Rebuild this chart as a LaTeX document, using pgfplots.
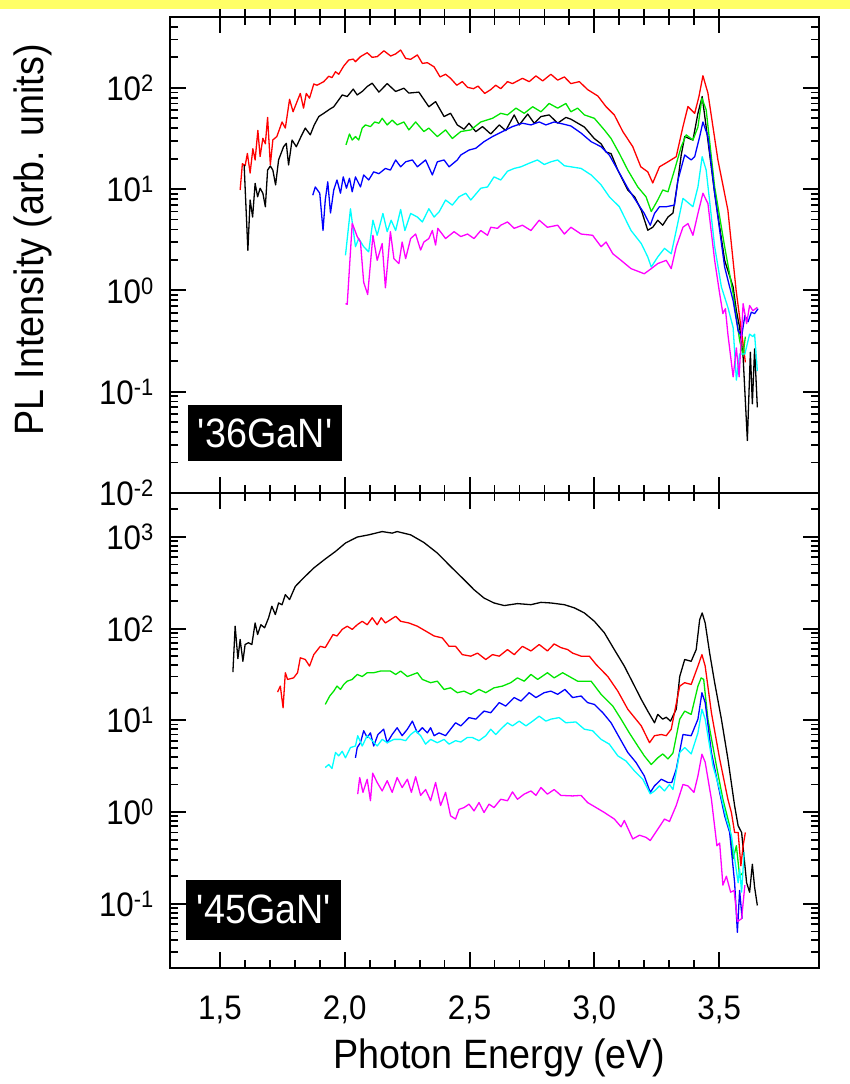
\documentclass[border=0pt]{standalone}
\usepackage{fontspec}
\setmainfont{Liberation Sans}[FakeStretch=0.92]
\usepackage{pgfplots}
\pgfplotsset{compat=1.18}
\definecolor{hl}{RGB}{255,255,102}
\definecolor{cgreen}{RGB}{0,230,0}
\definecolor{ccyan}{RGB}{0,255,255}
\definecolor{cmag}{RGB}{255,0,255}
\pgfplotsset{
  every axis plot/.append style={line width=1.3pt, line join=round},
  major tick style={black, line width=2pt},
  minor tick style={black, line width=1.8pt},
  tick label style={font=\fontsize{34pt}{36pt}\selectfont},
  yticklabel style={anchor=east, inner sep=0pt, xshift=-16pt},
  label style={font=\fontsize{41pt}{44pt}\selectfont},
  axis line style={line width=2.5pt},
}
\begin{document}
\begin{tikzpicture}
\useasboundingbox (0pt,0pt) rectangle (850pt,1084pt);
% ---------------- top panel ----------------
\begin{axis}[scale only axis, width=649pt, height=476pt, anchor=south west, at={(170pt,591pt)},
  xmin=1.3, xmax=3.9, ymode=log, ymin=0.01, ymax=500,
  xtick={1.5,2,2.5,3,3.5}, minor x tick num=4,
  tick align=inside, major tick length=16pt, minor tick length=8pt,
  xticklabels={},
  ytick={0.01,0.1,1,10,100},
  yticklabels={10\textsuperscript{-2},10\textsuperscript{-1},10\textsuperscript{0},10\textsuperscript{1},10\textsuperscript{2}},
  minor ytick={0.02,0.03,0.04,0.05,0.06,0.07,0.08,0.09,0.2,0.3,0.4,0.5,0.6,0.7,0.8,0.9,2,3,4,5,6,7,8,9,20,30,40,50,60,70,80,90,200,300,400},
  ylabel={PL Intensity (arb. units)},
  ylabel style={at={(rel axis cs:-0.211,0.5315)}, anchor=center},
]
% red
\addplot[red, mark=none] coordinates {(1.581,9.8)(1.590,17.8)(1.601,17)(1.610,22.5)(1.621,14.4)(1.632,25)(1.641,19.4)(1.652,38)(1.661,21)(1.672,31.7)(1.682,28)(1.691,51)(1.702,17.4)(1.712,30.6)(1.728,33)(1.749,46)(1.762,40)(1.779,77)(1.793,58)(1.806,70)(1.822,88)(1.835,63)(1.846,88)(1.859,79)(1.876,109)(1.889,106)(1.916,115)(1.936,130)(1.949,126)(1.963,144)(1.976,136)(1.996,164)(2.016,188)(2.034,192)(2.043,181)(2.063,203)(2.090,222)(2.110,200)(2.130,203)(2.157,232)(2.184,206)(2.204,216)(2.224,236)(2.244,195)(2.264,191)(2.291,211)(2.311,174)(2.331,177)(2.358,161)(2.382,128)(2.404,136)(2.424,124)(2.449,106)(2.471,115)(2.492,101)(2.516,98)(2.534,104)(2.561,88)(2.585,96)(2.605,106)(2.625,98)(2.652,115)(2.672,110)(2.712,124)(2.739,115)(2.766,131)(2.793,117)(2.826,136)(2.853,119)(2.880,128)(2.906,110)(2.940,115)(2.973,96)(3.014,83)(3.047,65)(3.080,54)(3.114,37)(3.154,26.2)(3.186,16.6)(3.214,14.8)(3.234,11.5)(3.261,16.6)(3.295,18.6)(3.328,20.9)(3.355,41.4)(3.375,65.3)(3.402,56)(3.419,82)(3.435,131.5)(3.455,88.7)(3.495,19.4)(3.535,6.2)(3.568,1.0)(3.596,0.296)(3.605,0.195)};
% black
\addplot[black, mark=none] coordinates {(1.597,17.3)(1.612,2.49)(1.621,7.8)(1.631,5.3)(1.641,11.4)(1.651,8.4)(1.661,10.2)(1.672,9.1)(1.682,6.7)(1.691,15.4)(1.702,16.9)(1.712,15.4)(1.723,11)(1.735,19.4)(1.755,26.2)(1.766,28.3)(1.775,17.3)(1.789,30.5)(1.806,26.2)(1.825,33)(1.842,40)(1.862,34.3)(1.878,43)(1.896,52)(1.916,56)(1.940,61.5)(1.956,65)(1.976,76)(1.990,85)(2.010,82)(2.034,97)(2.050,85)(2.070,92)(2.090,103)(2.110,111)(2.137,90.6)(2.170,110)(2.204,92)(2.237,99)(2.257,88.7)(2.297,90.6)(2.337,65)(2.364,73)(2.398,52)(2.424,56)(2.451,43)(2.478,39)(2.498,44.7)(2.525,36.9)(2.552,41.4)(2.585,35)(2.619,43)(2.645,37.8)(2.679,54)(2.699,43)(2.733,55)(2.759,44.7)(2.786,52)(2.819,54)(2.853,44.7)(2.886,51)(2.906,49)(2.960,41)(3.000,31.5)(3.027,28)(3.047,23.2)(3.067,22.4)(3.094,15.4)(3.134,9.8)(3.161,8.4)(3.188,6.2)(3.214,3.93)(3.234,4.2)(3.254,4.93)(3.274,4.4)(3.295,5.3)(3.315,5.8)(3.335,12.3)(3.348,21.7)(3.362,33)(3.395,30.5)(3.415,56)(3.432,82)(3.448,41)(3.482,9.1)(3.522,1.98)(3.556,1.08)(3.569,0.63)(3.582,0.43)(3.596,0.22)(3.613,0.033)(3.625,0.245)(3.633,0.076)(3.642,0.265)(3.653,0.07)};
% green
\addplot[cgreen, mark=none] coordinates {(2.005,27.3)(2.019,35)(2.030,30.5)(2.043,33)(2.056,30.5)(2.070,40)(2.083,43)(2.103,41.4)(2.120,46)(2.137,44.7)(2.150,50)(2.170,43)(2.190,48)(2.210,43)(2.237,46)(2.257,38.4)(2.284,46)(2.317,37)(2.337,40)(2.371,33)(2.404,38.4)(2.431,31.6)(2.465,37)(2.505,38.4)(2.545,46)(2.592,50)(2.625,56)(2.652,54)(2.686,63)(2.719,56)(2.753,65)(2.786,58)(2.819,70)(2.853,63)(2.886,70)(2.906,58)(2.933,63)(2.960,54)(3.000,50)(3.040,38.4)(3.067,31.6)(3.100,22.5)(3.134,15.4)(3.174,10.5)(3.207,8.4)(3.228,6.0)(3.254,7.8)(3.274,9.8)(3.295,9.4)(3.321,15.4)(3.348,26.2)(3.368,34.3)(3.395,30.5)(3.415,41)(3.431,79)(3.448,60.5)(3.482,10.5)(3.522,2.7)(3.556,0.93)(3.582,0.32)(3.596,0.23)(3.605,0.35)};
% blue
\addplot[blue, mark=none] coordinates {(1.872,8.7)(1.882,10.5)(1.900,9.1)(1.913,3.9)(1.922,7.8)(1.932,11.8)(1.943,5.8)(1.956,9.8)(1.969,12.3)(1.983,9.1)(1.994,13.2)(2.007,10.2)(2.019,12.8)(2.030,9.4)(2.043,13.2)(2.063,10.5)(2.076,13.8)(2.096,12.3)(2.116,14.8)(2.137,14.2)(2.163,16)(2.183,15.4)(2.204,19.4)(2.224,16.6)(2.244,18.6)(2.271,19.4)(2.291,16.6)(2.324,19.4)(2.351,13.8)(2.371,18.6)(2.398,19.4)(2.418,16.6)(2.451,19.4)(2.465,21.7)(2.498,24.3)(2.525,25.3)(2.558,29.4)(2.592,33)(2.632,37)(2.672,41.4)(2.712,44.7)(2.746,43)(2.779,46)(2.806,43)(2.839,46)(2.873,44)(2.906,42)(2.947,35.7)(2.987,29.4)(3.027,26.2)(3.060,21.7)(3.094,15.4)(3.134,10.2)(3.174,7.2)(3.200,5.75)(3.224,4.4)(3.241,5.75)(3.261,6.7)(3.288,6.7)(3.321,6.95)(3.335,12.3)(3.362,21.7)(3.388,19.4)(3.402,20.9)(3.422,33)(3.435,46)(3.455,33)(3.482,9.1)(3.522,1.7)(3.556,0.79)(3.576,0.40)(3.590,0.35)(3.603,0.565)(3.616,0.49)(3.629,0.61)(3.642,0.59)(3.656,0.66)};
% cyan
\addplot[ccyan, mark=none] coordinates {(2.003,2.22)(2.023,6.4)(2.043,2.7)(2.056,3.25)(2.076,2.7)(2.096,2.4)(2.113,4.93)(2.130,3.5)(2.153,5.75)(2.170,3.8)(2.186,4.93)(2.204,3.9)(2.224,6.3)(2.241,3.9)(2.264,5.75)(2.291,5.3)(2.311,4.74)(2.337,6.4)(2.358,5.3)(2.378,5.96)(2.404,7.8)(2.431,6.95)(2.458,8.4)(2.485,9.1)(2.505,7.8)(2.545,10.2)(2.572,10.5)(2.598,13.2)(2.625,12.3)(2.652,15)(2.679,16)(2.706,16.6)(2.739,18)(2.772,19.4)(2.799,17.5)(2.826,18.6)(2.853,19.4)(2.880,17)(2.906,16.6)(2.947,16)(2.987,13.8)(3.027,11)(3.060,8.4)(3.100,6.7)(3.147,3.9)(3.188,2.9)(3.214,2.14)(3.228,1.7)(3.254,2.14)(3.281,2.6)(3.308,2.3)(3.328,3.9)(3.355,8.1)(3.395,6.7)(3.415,10.5)(3.432,20.9)(3.448,15.4)(3.482,2.7)(3.509,1.08)(3.535,0.68)(3.556,0.43)(3.569,0.13)(3.582,0.236)(3.603,0.236)(3.622,0.37)(3.635,0.35)(3.642,0.37)(3.653,0.16)};
% magenta
\addplot[cmag, mark=none] coordinates {(2.003,0.74)(2.010,0.73)(2.030,4.6)(2.050,3.4)(2.063,3.0)(2.076,1.2)(2.092,0.91)(2.113,3.5)(2.130,1.98)(2.150,2.9)(2.163,1.06)(2.183,3.8)(2.197,2.06)(2.217,1.84)(2.230,3.0)(2.244,2.06)(2.264,3.25)(2.284,3.6)(2.304,2.5)(2.317,3.0)(2.337,3.25)(2.351,3.9)(2.364,2.8)(2.373,4.1)(2.404,3.25)(2.438,3.8)(2.465,3.4)(2.492,3.6)(2.518,3.25)(2.545,3.9)(2.572,3.5)(2.585,4.2)(2.612,4.1)(2.625,4.4)(2.652,4.74)(2.679,4.1)(2.712,4.4)(2.746,3.9)(2.779,4.93)(2.812,4.2)(2.853,4.4)(2.880,3.6)(2.906,4.2)(2.947,3.6)(2.993,3.5)(3.027,2.7)(3.047,3.0)(3.074,2.3)(3.107,1.98)(3.147,1.64)(3.200,1.46)(3.228,1.64)(3.254,1.84)(3.288,1.98)(3.308,1.64)(3.328,2.7)(3.355,4.2)(3.375,4.57)(3.395,3.5)(3.415,5.75)(3.435,9.1)(3.455,7.2)(3.482,1.98)(3.502,0.93)(3.515,0.59)(3.525,0.66)(3.535,0.37)(3.556,0.14)(3.569,0.27)(3.580,0.14)(3.596,0.74)(3.610,0.47)(3.622,0.71)(3.635,0.63)(3.653,0.68)};
\node[fill=black, text=white, anchor=south west, minimum width=154pt, minimum height=56pt, inner sep=0pt, font=\fontsize{41pt}{44pt}\selectfont] at (rel axis cs:0.028,0.067) {\textquotesingle 36GaN\textquotesingle};
\end{axis}
% outward top ticks of top panel
\begin{axis}[scale only axis, width=649pt, height=476pt, anchor=south west, at={(170pt,591pt)},
  xmin=1.3, xmax=3.9, ymin=0, ymax=1, ytick=\empty, xticklabels={},
  xtick={1.5,2,2.5,3,3.5}, minor x tick num=4,
  major tick length=16pt, minor tick length=8pt,
  xtick pos=right, tick align=outside]
\end{axis}
% ---------------- bottom panel ----------------
\begin{axis}[scale only axis, width=649pt, height=475pt, anchor=south west, at={(170pt,116pt)},
  xmin=1.3, xmax=3.9, ymode=log, ymin=0.02, ymax=3000,
  xtick={1.5,2,2.5,3,3.5}, minor x tick num=4,
  tick align=inside, major tick length=16pt, minor tick length=8pt,
  /pgf/number format/assume math mode=true,
  xticklabel style={anchor=base, yshift=-51pt, /pgf/number format/fixed, /pgf/number format/fixed zerofill, /pgf/number format/precision=1, /pgf/number format/use comma},
  ytick={0.1,1,10,100,1000},
  yticklabels={10\textsuperscript{-1},10\textsuperscript{0},10\textsuperscript{1},10\textsuperscript{2},10\textsuperscript{3}},
  minor ytick={0.02,0.03,0.04,0.05,0.06,0.07,0.08,0.09,0.2,0.3,0.4,0.5,0.6,0.7,0.8,0.9,2,3,4,5,6,7,8,9,20,30,40,50,60,70,80,90,200,300,400,500,600,700,800,900,2000},
  xlabel={Photon Energy (eV)},
  xlabel style={at={(rel axis cs:0.507,0)}, anchor=base, yshift=-100pt},
]
% black
\addplot[black, mark=none] coordinates {(1.552,33.5)(1.561,106)(1.572,47)(1.581,76)(1.592,44)(1.601,67)(1.614,70)(1.628,67)(1.641,115)(1.651,86)(1.664,110)(1.679,102)(1.695,131)(1.708,175)(1.722,142)(1.735,190)(1.749,182)(1.762,234)(1.779,207)(1.802,288)(1.835,356)(1.876,457)(1.922,573)(1.963,692)(2.003,855)(2.050,993)(2.096,1050)(2.150,1140)(2.190,1096)(2.210,1140)(2.264,1050)(2.317,867)(2.371,665)(2.424,475)(2.478,341)(2.518,265)(2.558,215)(2.598,190)(2.639,178)(2.692,187)(2.746,182)(2.786,193)(2.826,190)(2.880,182)(2.920,168)(2.960,148)(3.000,120)(3.040,90)(3.080,59)(3.120,39)(3.161,23.6)(3.188,16.9)(3.214,12.6)(3.241,9.4)(3.254,11.6)(3.274,10.3)(3.288,10.8)(3.305,9.8)(3.328,13.2)(3.342,30)(3.362,46)(3.388,44)(3.408,59)(3.422,125)(3.432,148)(3.444,115)(3.462,54)(3.482,25.7)(3.509,10.3)(3.535,3.8)(3.562,1.17)(3.576,0.71)(3.590,0.6)(3.610,0.17)(3.622,0.134)(3.633,0.27)(3.642,0.152)(3.653,0.096)};
% red
\addplot[red, mark=none] coordinates {(1.731,20.3)(1.742,23.6)(1.753,13.7)(1.762,33)(1.771,27.9)(1.795,29)(1.811,33)(1.822,48)(1.842,46)(1.859,39)(1.876,52)(1.902,64)(1.922,62)(1.953,86)(1.969,83)(1.990,98)(2.010,106)(2.030,98)(2.050,110)(2.070,120)(2.090,110)(2.110,131)(2.130,110)(2.146,131)(2.163,115)(2.204,136)(2.224,120)(2.257,115)(2.291,106)(2.324,94)(2.358,83)(2.391,79)(2.418,64)(2.444,64)(2.471,52)(2.505,50)(2.532,54)(2.565,46)(2.592,52)(2.619,50)(2.652,59)(2.679,52)(2.712,64)(2.746,57)(2.779,67)(2.812,57)(2.839,68)(2.866,62)(2.893,59)(2.913,54)(2.947,50)(2.980,50)(3.007,40.6)(3.054,30)(3.094,20.8)(3.134,13.2)(3.188,8.7)(3.221,5.7)(3.241,6.8)(3.268,7.0)(3.288,6.8)(3.308,8.0)(3.342,23.6)(3.362,25.7)(3.388,24.6)(3.415,39)(3.431,52)(3.444,39)(3.469,12.1)(3.502,3.8)(3.535,1.38)(3.549,0.99)(3.562,0.6)(3.576,0.6)(3.587,0.26)(3.596,0.43)(3.605,0.6)};
% green
\addplot[cgreen, mark=none] coordinates {(1.922,14.9)(1.940,18.4)(1.956,20.8)(1.969,23.6)(1.983,21.7)(1.996,24.6)(2.010,26.7)(2.030,27.9)(2.050,31.6)(2.070,30)(2.090,33)(2.116,33)(2.143,34.4)(2.183,34.4)(2.204,31.6)(2.224,34.4)(2.251,30)(2.291,33)(2.311,27.9)(2.344,25.7)(2.371,26.7)(2.398,21.7)(2.424,22.6)(2.451,20)(2.478,20.8)(2.505,19.2)(2.538,21.7)(2.565,20)(2.598,22.6)(2.632,23.6)(2.665,25.7)(2.692,29)(2.719,26.7)(2.746,31.6)(2.773,27.9)(2.812,33)(2.839,29)(2.873,33)(2.900,30)(2.933,26.7)(2.987,26.7)(3.027,19.2)(3.074,14.3)(3.107,10.3)(3.140,7.3)(3.174,5.25)(3.200,4.1)(3.228,3.3)(3.254,3.9)(3.274,4.3)(3.295,3.8)(3.315,4.4)(3.342,10.3)(3.362,12.6)(3.388,11.6)(3.415,23.6)(3.428,29)(3.438,27.9)(3.455,10.3)(3.489,3.2)(3.515,1.38)(3.542,0.71)(3.556,0.31)(3.569,0.43)(3.582,0.2)(3.596,0.22)};
% blue
\addplot[blue, mark=none] coordinates {(2.043,3.9)(2.050,5.05)(2.063,5.7)(2.076,7.7)(2.090,6.5)(2.103,7.3)(2.116,5.25)(2.133,7.0)(2.156,8.0)(2.170,5.7)(2.190,7.0)(2.210,8.3)(2.230,6.8)(2.251,8.0)(2.271,9.8)(2.291,7.3)(2.311,8.3)(2.331,7.3)(2.344,8.3)(2.358,6.8)(2.378,7.3)(2.404,6.8)(2.424,8.0)(2.444,9.4)(2.465,8.7)(2.498,10.7)(2.525,10.3)(2.558,12.6)(2.585,12.1)(2.619,15.6)(2.645,14.3)(2.679,17.7)(2.706,16.2)(2.739,20)(2.766,17.7)(2.799,20)(2.826,20.8)(2.853,19.2)(2.882,21.7)(2.913,17.7)(2.947,18.4)(2.973,15.6)(3.000,14.9)(3.034,12.1)(3.067,9.4)(3.100,6.5)(3.134,4.46)(3.167,3.47)(3.200,2.48)(3.224,1.64)(3.241,1.93)(3.268,2.28)(3.295,2.1)(3.310,2.1)(3.328,2.93)(3.355,7.0)(3.388,6.8)(3.415,10.3)(3.431,20)(3.444,15.6)(3.469,4.46)(3.502,1.64)(3.522,0.91)(3.542,0.6)(3.562,0.17)(3.573,0.049)(3.582,0.14)(3.592,0.069)};
% cyan
\addplot[ccyan, mark=none] coordinates {(1.922,3.06)(1.936,3.3)(1.949,2.98)(1.963,4.46)(1.976,4.1)(1.990,4.6)(2.003,3.9)(2.023,5.05)(2.043,5.25)(2.052,6.8)(2.070,5.25)(2.090,6.8)(2.110,6.0)(2.130,5.25)(2.150,6.2)(2.170,5.7)(2.197,6.2)(2.224,6.2)(2.244,6.0)(2.264,7.0)(2.284,7.7)(2.304,6.8)(2.324,5.5)(2.344,6.2)(2.371,5.7)(2.398,6.2)(2.418,5.5)(2.444,6.0)(2.465,5.8)(2.491,6.5)(2.511,6.5)(2.538,6.0)(2.565,6.8)(2.585,8.0)(2.605,7.0)(2.625,8.0)(2.652,9.4)(2.672,8.7)(2.699,9.8)(2.726,8.7)(2.753,9.8)(2.779,11.1)(2.806,9.8)(2.826,10.3)(2.859,10.7)(2.886,9.4)(2.926,9.6)(2.960,8.0)(2.993,7.7)(3.027,6.2)(3.060,5.5)(3.094,4.1)(3.127,3.6)(3.161,2.8)(3.194,2.28)(3.224,1.58)(3.241,1.7)(3.261,1.93)(3.281,1.7)(3.301,2.0)(3.315,1.76)(3.342,4.46)(3.362,5.05)(3.388,4.3)(3.415,7.3)(3.431,13.2)(3.444,10.3)(3.475,3.2)(3.502,1.76)(3.529,0.84)(3.549,0.56)(3.562,0.31)(3.576,0.17)(3.582,0.24)(3.590,0.134)(3.600,0.365)};
% magenta
\addplot[cmag, mark=none] coordinates {(2.052,1.57)(2.060,2.38)(2.073,1.64)(2.090,2.28)(2.103,1.33)(2.112,2.66)(2.130,2.1)(2.150,1.7)(2.170,2.2)(2.190,1.64)(2.210,2.38)(2.230,1.85)(2.251,2.28)(2.267,1.64)(2.284,2.43)(2.304,1.52)(2.324,1.76)(2.344,1.33)(2.364,2.1)(2.384,1.18)(2.404,1.64)(2.424,0.91)(2.444,0.84)(2.458,1.07)(2.478,1.12)(2.498,1.22)(2.518,1.03)(2.538,1.27)(2.558,0.99)(2.578,1.22)(2.598,1.12)(2.625,1.38)(2.652,1.33)(2.672,1.66)(2.692,1.38)(2.719,1.57)(2.746,1.7)(2.766,1.52)(2.786,1.85)(2.812,1.57)(2.839,1.76)(2.866,1.52)(2.913,1.5)(2.947,1.52)(2.973,1.27)(3.007,1.12)(3.040,0.99)(3.080,0.84)(3.107,0.69)(3.120,0.81)(3.154,0.51)(3.181,0.56)(3.207,0.53)(3.224,0.49)(3.254,0.65)(3.281,0.84)(3.301,0.79)(3.328,1.18)(3.355,2.0)(3.375,1.93)(3.399,1.64)(3.415,2.48)(3.431,4.27)(3.444,3.5)(3.469,1.38)(3.491,0.43)(3.502,0.46)(3.515,0.16)(3.529,0.2)(3.546,0.134)(3.560,0.14)(3.573,0.064)(3.590,0.069)(3.603,0.16)};
\node[fill=black, text=white, anchor=south west, minimum width=155pt, minimum height=60pt, inner sep=0pt, font=\fontsize{41pt}{44pt}\selectfont] at (rel axis cs:0.025,0.059) {\textquotesingle 45GaN\textquotesingle};
\end{axis}
\fill[hl] (0pt,1075pt) rectangle (850pt,1084pt);
\end{tikzpicture}
\end{document}
